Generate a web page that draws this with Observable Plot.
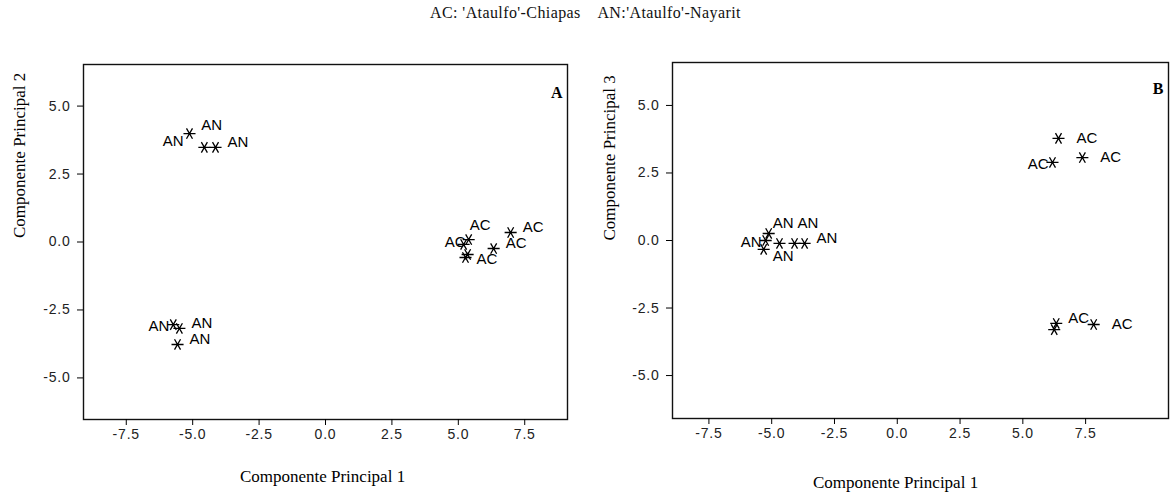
<!DOCTYPE html>
<html>
<head>
<meta charset="utf-8">
<script src="https://cdn.jsdelivr.net/npm/d3@7"></script>
<script src="https://cdn.jsdelivr.net/npm/@observablehq/plot@0.6"></script>
<style>
  html, body { margin: 0; padding: 0; background: #fff; }
  #wrap { position: relative; width: 1171px; height: 494px; overflow: hidden; }
  #title { position: absolute; top: 4px; left: 0; width: 1171px; text-align: center;
           font-family: "Liberation Serif", "DejaVu Serif", serif; font-size: 16px; color: #111;
           white-space: pre; letter-spacing: 0.4px; }
  .panel { position: absolute; top: 0; }
  g[aria-label="x-axis tick label"] text, g[aria-label="y-axis tick label"] text { letter-spacing: 0.8px; }
</style>
</head>
<body>
<div id="wrap">
  <div id="title"></div>
</div>
<script>
// ---- data ----
const titleText = "AC: 'Ataulfo'-Chiapas    AN:'Ataulfo'-Nayarit";
const xTicks = [-7.5, -5.0, -2.5, 0.0, 2.5, 5.0, 7.5];
const yTicks = [-5.0, -2.5, 0.0, 2.5, 5.0];

// Panel A: Componente Principal 1 vs Componente Principal 2
const panelA_group = ["AN","AN","AN","AN","AN","AN","AC","AC","AC","AC","AC","AC"];
const panelA_pc1   = [-5.12,-4.56,-4.14,-5.73,-5.50,-5.57, 5.39, 5.20, 5.27, 5.35, 6.33, 6.97];
const panelA_pc2   = [ 3.99, 3.48, 3.48,-3.04,-3.18,-3.77, 0.09,-0.09,-0.57,-0.46,-0.24, 0.35];
const panelA_lab   = ["ld","t","r","l","r","r","tr","","rd","lu","r","r"];

// Panel B: Componente Principal 1 vs Componente Principal 3
const panelB_group = ["AN","AN","AN","AN","AN","AN","AC","AC","AC","AC","AC","AC"];
const panelB_pc1   = [-5.12,-5.24,-5.32,-4.69,-4.09,-3.69, 6.42, 6.18, 7.37, 6.33, 6.25, 7.82];
const panelB_pc3   = [ 0.26, 0.00,-0.33,-0.11,-0.11,-0.11, 3.78, 2.89, 3.07,-3.07,-3.30,-3.11];
const panelB_lab   = ["tn","l","b","","t2","r","rf","l","rf","r","","rf"];

// ---- styling ----
const SERIF = "Liberation Serif, DejaVu Serif, serif";
const SANS = "Liberation Sans, Arial, sans-serif";
const place = {
  r:  {textAnchor: "start", dx: 12, dy: -5},
  rd: {textAnchor: "start", dx: 11, dy: 2},
  rf: {textAnchor: "start", dx: 18, dy: 0},
  l:  {textAnchor: "end",   dx: -4, dy: 2},
  ld: {textAnchor: "end",   dx: -6, dy: 8},
  lu: {textAnchor: "end",   dx: -2, dy: -12},
  t:  {textAnchor: "start", dx: -3, dy: -22},
  t2: {textAnchor: "start", dx: 3,  dy: -20},
  tr: {textAnchor: "start", dx: 1,  dy: -14},
  tn: {textAnchor: "start", dx: 4,  dy: -10},
  b:  {textAnchor: "start", dx: 9,  dy: 7}
};

document.getElementById("title").textContent = titleText;

function makePanel(cfg) {
  const data = cfg.group.map((g, i) => ({g, x: cfg.xs[i], y: cfg.ys[i], p: cfg.lab[i]}));
  const labelMarks = Object.entries(place).map(([code, o]) =>
    Plot.text(data.filter(d => d.p === code), {
      x: "x", y: "y", text: "g", textAnchor: o.textAnchor, dx: o.dx, dy: o.dy,
      fontFamily: SANS, fontSize: 15, fill: "#000"
    })
  );
  return Plot.plot({
    width: cfg.width, height: 494,
    marginLeft: cfg.ml, marginRight: cfg.mr, marginTop: cfg.mt, marginBottom: cfg.mb,
    x: {domain: cfg.xDomain},
    y: {domain: cfg.yDomain},
    style: {background: "transparent", color: "#000", overflow: "visible"},
    marks: [
      Plot.frame({stroke: "#111", strokeWidth: 1.4}),
      Plot.axisX({ticks: xTicks, tickFormat: d => d.toFixed(1), tickSize: 6, tickPadding: 4,
                  label: null, fontFamily: SANS, fontSize: 14, fill: "#222"}),
      Plot.axisY({ticks: yTicks, tickFormat: d => d.toFixed(1), tickSize: 6, tickPadding: 7,
                  label: null, fontFamily: SANS, fontSize: 14, fill: "#222"}),
      Plot.dot(data, {x: "x", y: "y", symbol: "asterisk", r: 5.7, rotate: 90,
                      stroke: "#000", strokeWidth: 1.3}),
      ...labelMarks,
      Plot.text([cfg.yTitle], {frameAnchor: "left", dx: cfg.yTitleDx, dy: cfg.yTitleDy, rotate: -90,
                               fontFamily: SERIF, fontSize: 17, fill: "#000"}),
      Plot.text([cfg.xTitle], {frameAnchor: "bottom", dx: cfg.xTitleDx, dy: cfg.xTitleDy,
                               fontFamily: SERIF, fontSize: 17, fill: "#000"}),
      Plot.text([cfg.tag], {frameAnchor: "top-right", dx: -5, dy: cfg.tagDy, textAnchor: "end",
                            fontFamily: SERIF, fontSize: 16, fontWeight: "bold", fill: "#000"})
    ]
  });
}

const wrap = document.getElementById("wrap");

const A = makePanel({
  group: panelA_group, xs: panelA_pc1, ys: panelA_pc2, lab: panelA_lab,
  width: 585, ml: 83, mr: 18, mt: 64, mb: 75,
  xDomain: [-9.11, 9.11], yDomain: [-6.53, 6.53],
  yTitle: "Componente Principal 2", yTitleDx: -64, yTitleDy: -4,
  xTitle: "Componente Principal 1", xTitleDx: -3, xTitleDy: 62,
  tag: "A", tagDy: 22
});
A.classList.add("panel");
A.style.left = "0px";
wrap.appendChild(A);

const B = makePanel({
  group: panelB_group, xs: panelB_pc1, ys: panelB_pc3, lab: panelB_lab,
  width: 586, ml: 87, mr: 3, mt: 62, mb: 76,
  xDomain: [-8.95, 10.8], yDomain: [-6.59, 6.59],
  yTitle: "Componente Principal 3", yTitleDx: -63, yTitleDy: 0,
  xTitle: "Componente Principal 1", xTitleDx: -25, xTitleDy: 69,
  tag: "B", tagDy: 20
});
B.classList.add("panel");
B.style.left = "585px";
wrap.appendChild(B);
</script>
</body>
</html>
